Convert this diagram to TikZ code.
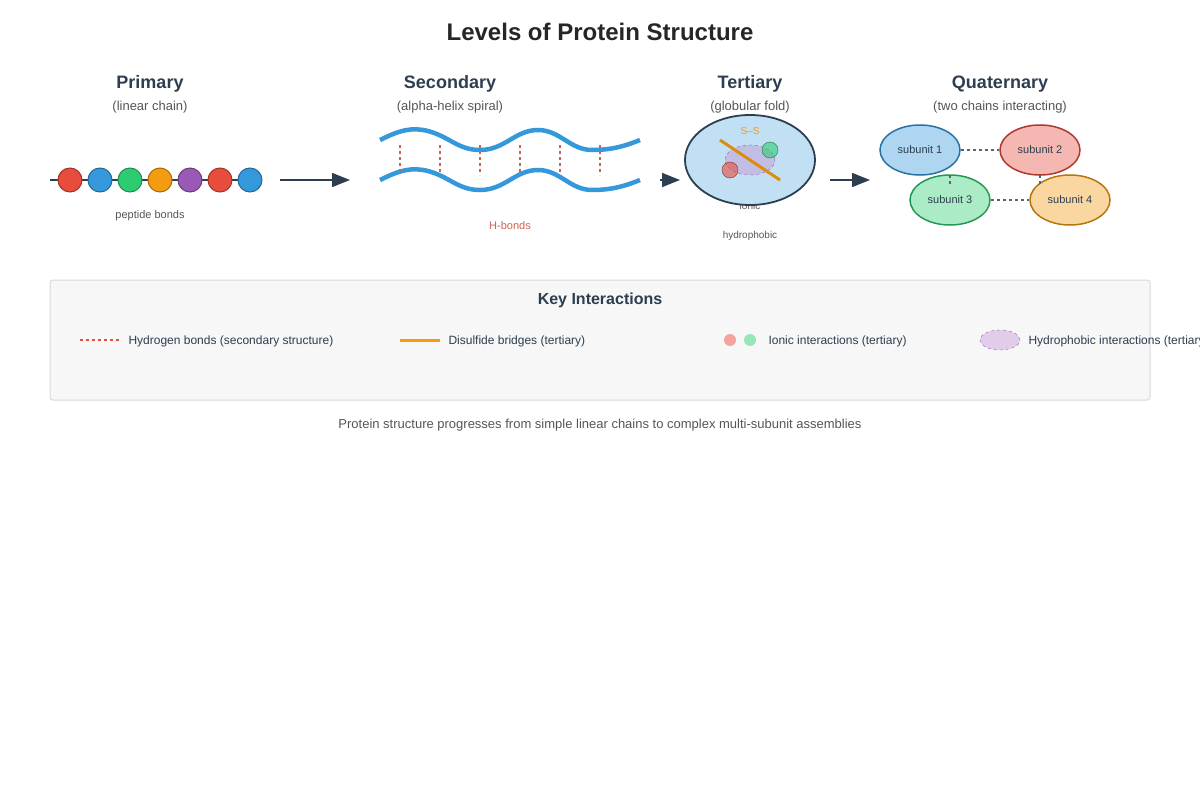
\documentclass[tikz,border=0pt]{standalone}
\usepackage{fontspec}
\setmainfont{Liberation Sans}
\usetikzlibrary{positioning,arrows.meta,shapes.geometric}
\definecolor{ink}{HTML}{2C3E50}
\definecolor{txt}{HTML}{555555}
\definecolor{cred}{HTML}{E74C3C}
\definecolor{cblue}{HTML}{3498DB}
\definecolor{cgreen}{HTML}{2ECC71}
\definecolor{corange}{HTML}{F39C12}
\definecolor{cpurple}{HTML}{9B59B6}
\definecolor{hbond}{HTML}{CD6155}
\tikzset{
  head/.style={font=\fontsize{18}{20}\selectfont\bfseries, text=ink},
  sub/.style={font=\fontsize{13}{15}\selectfont, text=txt},
  small/.style={font=\fontsize{11}{13}\selectfont, text=txt},
  amino/.style={circle, draw=#1!70!black, fill=#1, minimum size=24pt, inner sep=0pt, line width=1pt},
  levelarrow/.style={-{Triangle[length=18pt,width=14pt]}, ink, line width=1.5pt},
  unit/.style={ellipse, draw=#1!75!black, fill=#1!40, minimum width=80pt, minimum height=50pt, line width=1.5pt, font=\fontsize{11}{13}\selectfont, text=ink},
  contact/.style={dashed, line width=1.2pt, ink!80},
  legend/.style={font=\fontsize{12}{14}\selectfont, text=ink, anchor=west}
}
\begin{document}
\begin{tikzpicture}[x=1pt,y=-1pt]
\useasboundingbox (0,0) rectangle (1200,800);
\node[font=\fontsize{24}{28}\selectfont\bfseries, text=black!85] (title) at (600,32) {Levels of Protein Structure};

% primary
\node[head] (h1) at (150,84) {Primary};
\node[sub] (s1) at (150,107) {(linear chain)};
\coordinate (pa) at (50,180);
\coordinate (pb) at (262,180);
\draw[ink, line width=1.5pt] (pa) -- (pb);
\foreach \c [count=\i] in {cred,cblue,cgreen,corange,cpurple,cred,cblue}
  \node[amino=\c] (aa\i) at (40+30*\i,180) {};
\node[small] (pep) at (150,216) {peptide bonds};

% secondary
\node[head] (h2) at (450,84) {Secondary};
\node[sub] (s2) at (450,107) {(alpha-helix spiral)};
\foreach \dy in {0,40}
  \draw[cblue, line width=4.5pt] (380,140+\dy)
    .. controls (400,130+\dy) and (412,127+\dy) .. (428,131+\dy)
    .. controls (450,137+\dy) and (458,150+\dy) .. (480,150+\dy)
    .. controls (505,150+\dy) and (515,130+\dy) .. (538,130+\dy)
    .. controls (560,130+\dy) and (570,150+\dy) .. (592,150+\dy)
    .. controls (612,150+\dy) and (625,146+\dy) .. (640,140+\dy);
\foreach \x in {400,440,...,600}
  \draw[hbond, dashed, line width=1.5pt] (\x,145) -- (\x,175);
\node[small, text=hbond] (hb) at (510,226) {H-bonds};

% tertiary
\node[head] (h3) at (750,84) {Tertiary};
\node[sub] (s3) at (750,107) {(globular fold)};
\node[small, font=\fontsize{10}{12}\selectfont] (ion) at (750,206) {ionic};
\node[ellipse, draw=ink, fill=cblue!30, line width=1.8pt, minimum width=130pt, minimum height=90pt] (glob) at (750,160) {};
\node[ellipse, draw=cpurple, dashed, fill=cpurple!60, fill opacity=0.5, minimum width=50pt, minimum height=30pt] (hyd) at (750,160) {};
\coordinate (ssa) at (720,140);
\coordinate (ssb) at (780,180);
\draw[corange!90!black, line width=3pt] (ssa) -- (ssb);
\node[circle, draw=cgreen!60!black, fill=cgreen, fill opacity=0.6, minimum size=16pt, inner sep=0pt] (ionp) at (770,150) {};
\node[circle, draw=cred!60!black, fill=cred, fill opacity=0.6, minimum size=16pt, inner sep=0pt] (ionn) at (730,170) {};
\node[small, text=corange, font=\fontsize{10}{12}\selectfont] (ss) at (750,131) {S--S};
\node[small, font=\fontsize{10}{12}\selectfont] (hph) at (750,236) {hydrophobic};

% quaternary
\node[head] (h4) at (1000,84) {Quaternary};
\node[sub] (s4) at (1000,107) {(two chains interacting)};
\node[unit=cblue] (u1) at (920,150) {subunit 1};
\node[unit=cred] (u2) at (1040,150) {subunit 2};
\node[unit=cgreen] (u3) at (950,200) {subunit 3};
\node[unit=corange] (u4) at (1070,200) {subunit 4};
\draw[contact] (u1) -- (u2);
\draw[contact] (u3) -- (u4);
\draw[contact] (950,175) -- (950,185);
\draw[contact] (1040,175) -- (1040,185);

% levels
\coordinate (a1) at (280,180);
\coordinate (a2) at (350,180);
\coordinate (a3) at (660,180);
\coordinate (a4) at (680,180);
\coordinate (a5) at (830,180);
\coordinate (a6) at (870,180);
\draw[levelarrow] (a1) -- (a2);
\draw[levelarrow] (a3) -- (a4);
\draw[levelarrow] (a5) -- (a6);

% key
\node[draw=black!15, fill=black!3, rounded corners=3pt, minimum width=1100pt, minimum height=120pt, line width=1pt] (key) at (600,340) {};
\node[font=\fontsize{16}{18}\selectfont\bfseries, text=ink] (kt) at (600,300) {Key Interactions};
\coordinate (k1a) at (80,340);
\coordinate (k1b) at (120,340);
\draw[cred, dashed, line width=1.5pt] (k1a) -- (k1b);
\node[legend] (l1) at (125,341) {Hydrogen bonds (secondary structure)};
\coordinate (k2a) at (400,340);
\coordinate (k2b) at (440,340);
\draw[corange, line width=3pt] (k2a) -- (k2b);
\node[legend] (l2) at (445,341) {Disulfide bridges (tertiary)};
\node[circle, fill=cred!50, minimum size=12pt, inner sep=0pt] (kr) at (730,340) {};
\node[circle, fill=cgreen!50, minimum size=12pt, inner sep=0pt] (kg) at (750,340) {};
\node[legend] (l3) at (765,341) {Ionic interactions (tertiary)};
\node[ellipse, draw=cpurple, dashed, fill=cpurple!30, minimum width=40pt, minimum height=20pt, inner sep=0pt] (kh) at (1000,340) {};
\node[legend] (l4) at (1025,341) {Hydrophobic interactions (tertiary)};

\node[font=\fontsize{13}{15}\selectfont, text=txt] (foot) at (600,425) {Protein structure progresses from simple linear chains to complex multi-subunit assemblies};
\end{tikzpicture}
\end{document}
